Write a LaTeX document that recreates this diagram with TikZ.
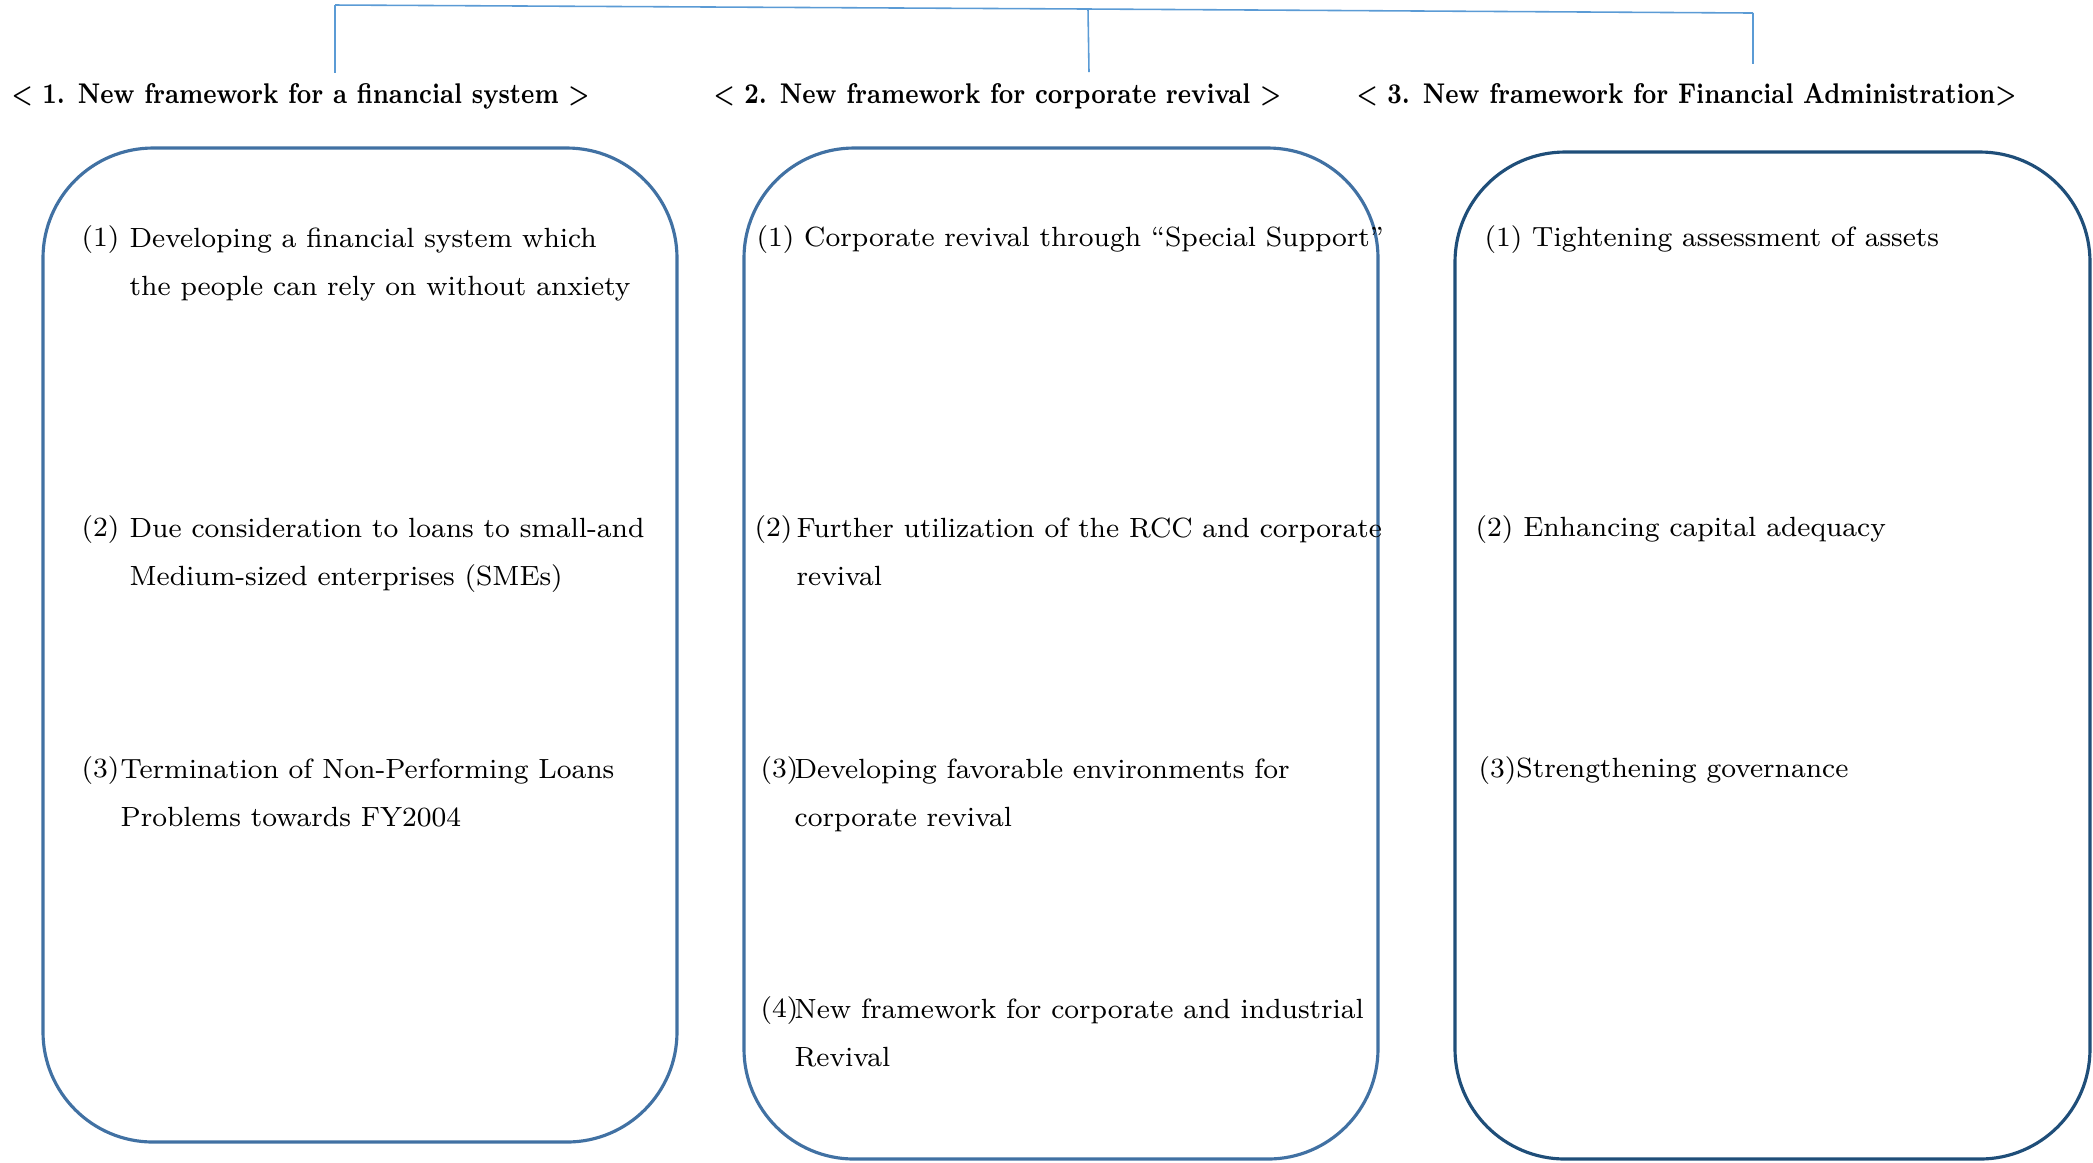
\documentclass[tikz,border=0pt]{standalone}
\usetikzlibrary{positioning}
\definecolor{boxblue}{RGB}{65,113,163}
\definecolor{boxdark}{RGB}{31,78,121}
\definecolor{linkblue}{RGB}{91,155,213}
\newcommand{\headtext}[1]{\scalebox{0.83}[1]{#1}}
\begin{document}
\begin{tikzpicture}[x=0.01cm,y=-0.01cm,
    frame/.style={line width=0.9pt,rounded corners=1.1cm},
    link/.style={linkblue,line width=0.45pt},
    head/.style={anchor=base west,inner sep=0pt,font=\fontsize{8.1}{10}\selectfont\bfseries},
    item/.style={anchor=north west,inner sep=0pt,align=left,font=\fontsize{7.9}{13.7}\selectfont}]
  \useasboundingbox (0,0) rectangle (2093,1162);

  % the three frames
  \draw[frame,boxblue] (43,148) rectangle (677,1142);
  \draw[frame,boxblue] (744,148) rectangle (1378,1159);
  \draw[frame,boxdark] (1455,152) rectangle (2090,1159);

  % headings
  \node[head] (head1) at (11,103) {\headtext{< 1. New framework for a financial system >}};
  \node[head] (head2) at (713,103) {\headtext{< 2. New framework for corporate revival >}};
  \node[head] (head3) at (1356,103) {\headtext{< 3. New framework for Financial Administration>}};

  % bracket over the headings
  \coordinate (top1) at (335,5);
  \coordinate (top2) at (1088,9);
  \coordinate (top3) at (1753,13);
  \coordinate (end1) at (335,73);
  \coordinate (end2) at (1089,72);
  \coordinate (end3) at (1753,64);
  \draw[link] (top1) -- (top2) -- (top3);
  \draw[link] (top1) -- (end1);
  \draw[link] (top2) -- (end2);
  \draw[link] (top3) -- (end3);

  % frame 1
  \node[item] (num11) at (81,225) {(1)};
  \node[item] (txt11) at (129,227) {Developing a financial system which\\the people can rely on without anxiety};
  \node[item] (num12) at (81,515) {(2)};
  \node[item] (txt12) at (129,517) {Due consideration to loans to small-and\\Medium-sized enterprises (SMEs)};
  \node[item] (num13) at (81,756) {(3)};
  \node[item] (txt13) at (120,758) {Termination of Non-Performing Loans\\Problems towards FY2004};

  % frame 2
  \node[item] (txt21) at (756,225) {(1) Corporate revival through “Special Support”};
  \node[item] (num22) at (754,515) {(2)};
  \node[item] (txt22) at (796,517) {Further utilization of the RCC and corporate\\revival};
  \node[item] (num23) at (760,756) {(3)};
  \node[item] (txt23) at (794,758) {Developing favorable environments for\\corporate revival};
  \node[item] (num24) at (760,996) {(4)};
  \node[item] (txt24) at (794,998) {New framework for corporate and industrial\\Revival};

  % frame 3
  \node[item] (txt31) at (1484,225) {(1) Tightening assessment of assets};
  \node[item] (txt32) at (1475,515) {(2) Enhancing capital adequacy};
  \node[item] (txt33) at (1478,756) {(3)Strengthening governance};
\end{tikzpicture}
\end{document}
